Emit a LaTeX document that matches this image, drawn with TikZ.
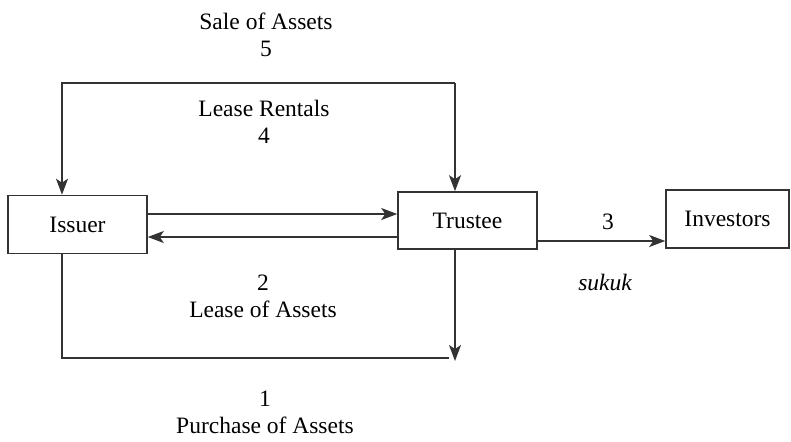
\documentclass[tikz,border=0pt]{standalone}
\usepackage{fontspec}
\setmainfont{Liberation Serif}
\usetikzlibrary{arrows.meta}
\begin{document}
\begin{tikzpicture}[x=1pt,y=-1pt,
  box/.style={draw=black!80, line width=1.6pt, inner sep=0pt, font=\fontsize{23.5}{27}\selectfont},
  lbl/.style={inner sep=0pt, align=center, font=\fontsize{23.5}{27}\selectfont},
  arr/.style={draw=black!80, line width=1.6pt, -{Stealth[length=16pt,width=12pt,inset=4pt]}},
  ln/.style={draw=black!80, line width=1.6pt}]
\useasboundingbox (0,0) rectangle (791,441);
\node[box, minimum width=139pt, minimum height=58pt] (issuer) at (77.5,224.5) {Issuer};
\node[box, minimum width=139pt, minimum height=57pt] (trustee) at (467.5,220.5) {Trustee};
\node[box, minimum width=123pt, minimum height=58pt] (investors) at (727.5,219) {Investors};
% top loop
\coordinate (tl) at (62,83);
\coordinate (tr) at (455,83);
\draw[arr] (tr) -- (tl) -- (tl |- issuer.north);
\draw[arr] (tr) -- (tr |- trustee.north);
% middle arrows
\draw[arr] (issuer.east |- 0,214) -- (trustee.west |- 0,214);
\draw[arr] (trustee.west |- 0,237) -- (issuer.east |- 0,237);
\draw[arr] (trustee.east |- 0,241) -- (investors.west |- 0,241);
% bottom
\coordinate (bl) at (62,358);
\coordinate (br) at (449,358);
\coordinate (bt) at (455,361);
\draw[ln] (bl |- issuer.south) -- (bl) -- (br);
\draw[arr] (bt |- trustee.south) -- (bt);
% labels
\node[lbl] (l5) at (266,35) {Sale of Assets\\5};
\node[lbl] (l4) at (264,122) {Lease Rentals\\4};
\node[lbl] (l2) at (263,296.5) {2\\Lease of Assets};
\node[lbl] (l1) at (265,412) {1\\Purchase of Assets};
\node[lbl] (l3) at (608,222) {3};
\node[lbl] (ls) at (605,282) {\itshape sukuk};
\end{tikzpicture}
\end{document}
